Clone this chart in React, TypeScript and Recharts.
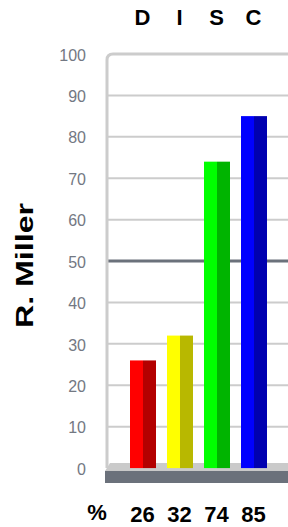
import React from "react"
import {
  BarChart,
  Bar,
  XAxis,
  YAxis,
  CartesianGrid,
  ReferenceArea,
  Label,
} from "recharts"

const categories = ["D", "I", "S", "C"]
const scores = [26, 32, 74, 85]
const yTicks = [0, 10, 20, 30, 40, 50, 60, 70, 80, 90, 100]
const gridValues = [10, 20, 30, 40, 60, 70, 80, 90]
const midValues = [50]
const lightColors = ["#ff0000", "#ffff00", "#00ff00", "#0000ff"]
const darkColors = ["#b30000", "#b8b800", "#00b400", "#0000b0"]
const personName = "R. Miller"

const data = categories.map((name, i) => ({ name, value: scores[i] }))

const FONT = "'Liberation Sans', Arial, Helvetica, sans-serif"
const PAD_L = 17
const PAD_R = 16

function TwoToneBar(props: any) {
  const { x, y, width, height, index } = props
  if (!height || height <= 0) return null
  const half = width / 2
  return (
    <g>
      <rect x={x} y={y} width={half} height={height} fill={lightColors[index]} />
      <rect x={x + half} y={y} width={width - half} height={height} fill={darkColors[index]} />
    </g>
  )
}

function TopTick(props: any) {
  const { x, y, payload } = props
  return (
    <text x={x} y={y - 27} textAnchor="middle" fontFamily={FONT} fontWeight="bold" fontSize={22} fill="#000">
      {payload.value}
    </text>
  )
}

function BottomTick(props: any) {
  const { x, y, payload, index } = props
  return (
    <text x={x} y={y + 37} textAnchor="middle" fontFamily={FONT} fontWeight="bold" fontSize={22} fill="#000">
      {scores[index] ?? payload.value}
    </text>
  )
}

// left wall + top line, rounded corner
function FrameShape(props: any) {
  const { y, height } = props
  const x = props.x - PAD_L
  const w = props.width + PAD_L + PAD_R
  const r = 6
  const d = `M${x},${y + height} L${x},${y + r} Q${x},${y} ${x + r},${y} L${x + w},${y}`
  return <path d={d} fill="none" stroke="#cccccc" strokeWidth={3} />
}

function FloorTop(props: any) {
  const { y, height } = props
  const x = props.x - PAD_L
  const w = props.width + PAD_L + PAD_R
  const pts = `${x + 3},${y} ${x + w},${y} ${x + w},${y + height} ${x - 2},${y + height}`
  return <polygon points={pts} fill="#cacaca" />
}

function FloorFront(props: any) {
  const { y, height } = props
  const x = props.x - PAD_L
  const w = props.width + PAD_L + PAD_R
  return <rect x={x - 2} y={y} width={w + 2} height={height} fill="#6b717b" />
}

export default function App() {
  return (
    <div style={{ width: 288, height: 527 }}>
      <style>{`body{margin:0}`}</style>
      <BarChart
        width={288}
        height={527}
        data={data}
        margin={{ top: 0, right: 0, bottom: 0, left: 0 }}
      >
        <XAxis
          xAxisId="top"
          dataKey="name"
          orientation="top"
          height={54}
          axisLine={false}
          tickLine={false}
          tickSize={0}
          padding={{ left: PAD_L, right: PAD_R }}
          tick={<TopTick />}
          interval={0}
        />
        <XAxis
          xAxisId="bottom"
          dataKey="name"
          orientation="bottom"
          height={44}
          axisLine={false}
          tickLine={false}
          tickSize={0}
          padding={{ left: PAD_L, right: PAD_R }}
          tick={<BottomTick />}
          interval={0}
        >
          <Label
            content={(p: any) => (
              <text
                x={p.viewBox.x - 10}
                y={p.viewBox.y + 37}
                textAnchor="middle"
                fontFamily={FONT}
                fontWeight="bold"
                fontSize={22}
                fill="#000"
              >
                %
              </text>
            )}
          />
        </XAxis>
        <YAxis
          domain={[-3.6, 100]}
          ticks={yTicks}
          allowDataOverflow
          width={107}
          axisLine={false}
          tickLine={false}
          tickSize={0}
          tickMargin={21}
          tick={{ fill: "#737883", fontSize: 16, fontFamily: FONT, dy: 1 }}
        >
          <Label
            content={(p: any) => {
              const cx = p.viewBox.x + 33
              const cy = p.viewBox.y + p.viewBox.height / 2 - 3
              return (
                <text
                  transform={`translate(${cx},${cy}) rotate(-90) scale(1.4,1)`}
                  textAnchor="middle"
                  fontFamily={FONT}
                  fontWeight="bold"
                  fontSize={23}
                  fill="#000"
                >
                  {personName}
                </text>
              )
            }}
          />
        </YAxis>
        <CartesianGrid
          xAxisId="top"
          vertical={false}
          horizontalValues={gridValues}
          stroke="#cccccc"
          strokeWidth={2}
        />
        <CartesianGrid
          xAxisId="top"
          vertical={false}
          horizontalValues={midValues}
          stroke="#6b717b"
          strokeWidth={3}
        />
        <ReferenceArea xAxisId="top" y1={0} y2={100} shape={<FrameShape />} />
        <ReferenceArea xAxisId="top" y1={-0.7} y2={1.2} shape={<FloorTop />} />
        <ReferenceArea xAxisId="top" y1={-3.6} y2={-0.7} shape={<FloorFront />} />
        <Bar
          xAxisId="top"
          dataKey="value"
          barSize={26}
          shape={<TwoToneBar />}
          isAnimationActive={false}
        />
      </BarChart>
    </div>
  )
}
